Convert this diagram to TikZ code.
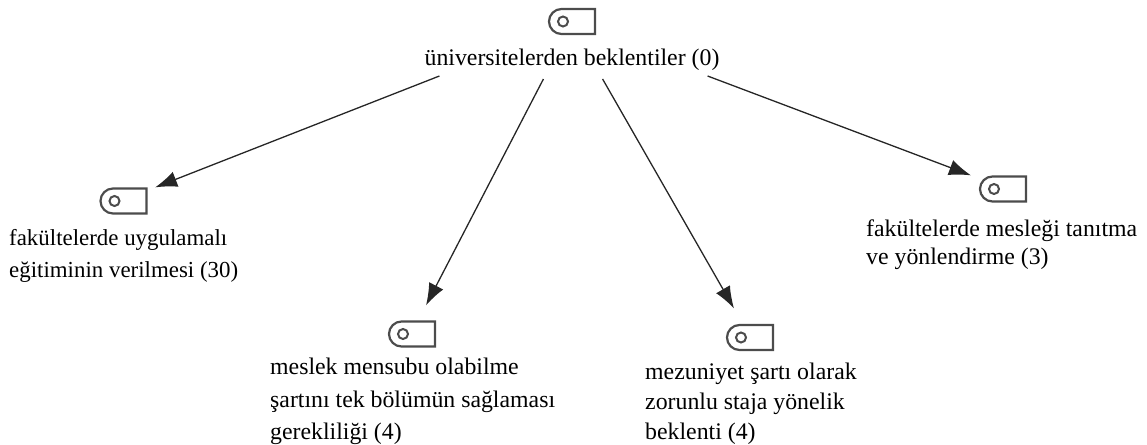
\documentclass[tikz,border=0pt]{standalone}
\usepackage{fontspec}
\setmainfont{Liberation Serif}
\usetikzlibrary{shapes.misc,arrows.meta}
\tikzset{
    code/.style={rounded rectangle, rounded rectangle east arc=none, draw=black!70, line width=2.2pt,
        minimum width=46pt, minimum height=25pt, inner sep=0pt,
        path picture={\draw[black!70, line width=2pt] ([xshift=-9pt]path picture bounding box.center) circle (5pt);}},
    label/.style={align=left, inner sep=0pt, font=\fontsize{23.8}{32.5}\selectfont, text=black},
    link/.style={draw=black!85, line width=1.3pt, -{Latex[length=22pt, width=16pt]}}
}
\begin{document}
\begin{tikzpicture}[x=1pt, y=-1pt]
    \useasboundingbox (0,0) rectangle (1147,444);
    \node[code] (rootcode) at (572,21.5) {};
    \node[label] (root) at (572,60) {üniversitelerden beklentiler (0)};
    \node[code] (applied) at (123.5,201) {};
    \node[label, anchor=north west, font=\fontsize{22.9}{32}\selectfont] (appliedtext) at (9,229) {fakültelerde uygulamalı\\eğitiminin verilmesi (30)};
    \node[code] (member) at (412,334) {};
    \node[label, anchor=north west] (membertext) at (270,358) {meslek mensubu olabilme\\şartını tek bölümün sağlaması\\gerekliliği (4)};
    \node[code] (intern) at (750,337.5) {};
    \node[label, anchor=north west, font=\fontsize{23.8}{30}\selectfont] (interntext) at (645,363) {mezuniyet şartı olarak\\zorunlu staja yönelik\\beklenti (4)};
    \node[code] (career) at (1003,189) {};
    \node[label, anchor=north west, font=\fontsize{23.8}{28}\selectfont] (careertext) at (866,219.5) {fakültelerde mesleği tanıtma\\ve yönlendirme (3)};
    \draw[link] ([xshift=15pt, yshift=-5pt]root.south west) -- ([xshift=7.5pt]applied.north east);
    \draw[link] ([xshift=119pt, yshift=-8pt]root.south west) -- ([xshift=14pt, yshift=15pt]member.north);
    \draw[link] ([xshift=-117pt, yshift=-8pt]root.south east) -- ([xshift=-16pt, yshift=15.5pt]intern.north);
    \draw[link] ([xshift=-12pt, yshift=-5pt]root.south east) -- ([xshift=-32pt]career.north);
\end{tikzpicture}
\end{document}
